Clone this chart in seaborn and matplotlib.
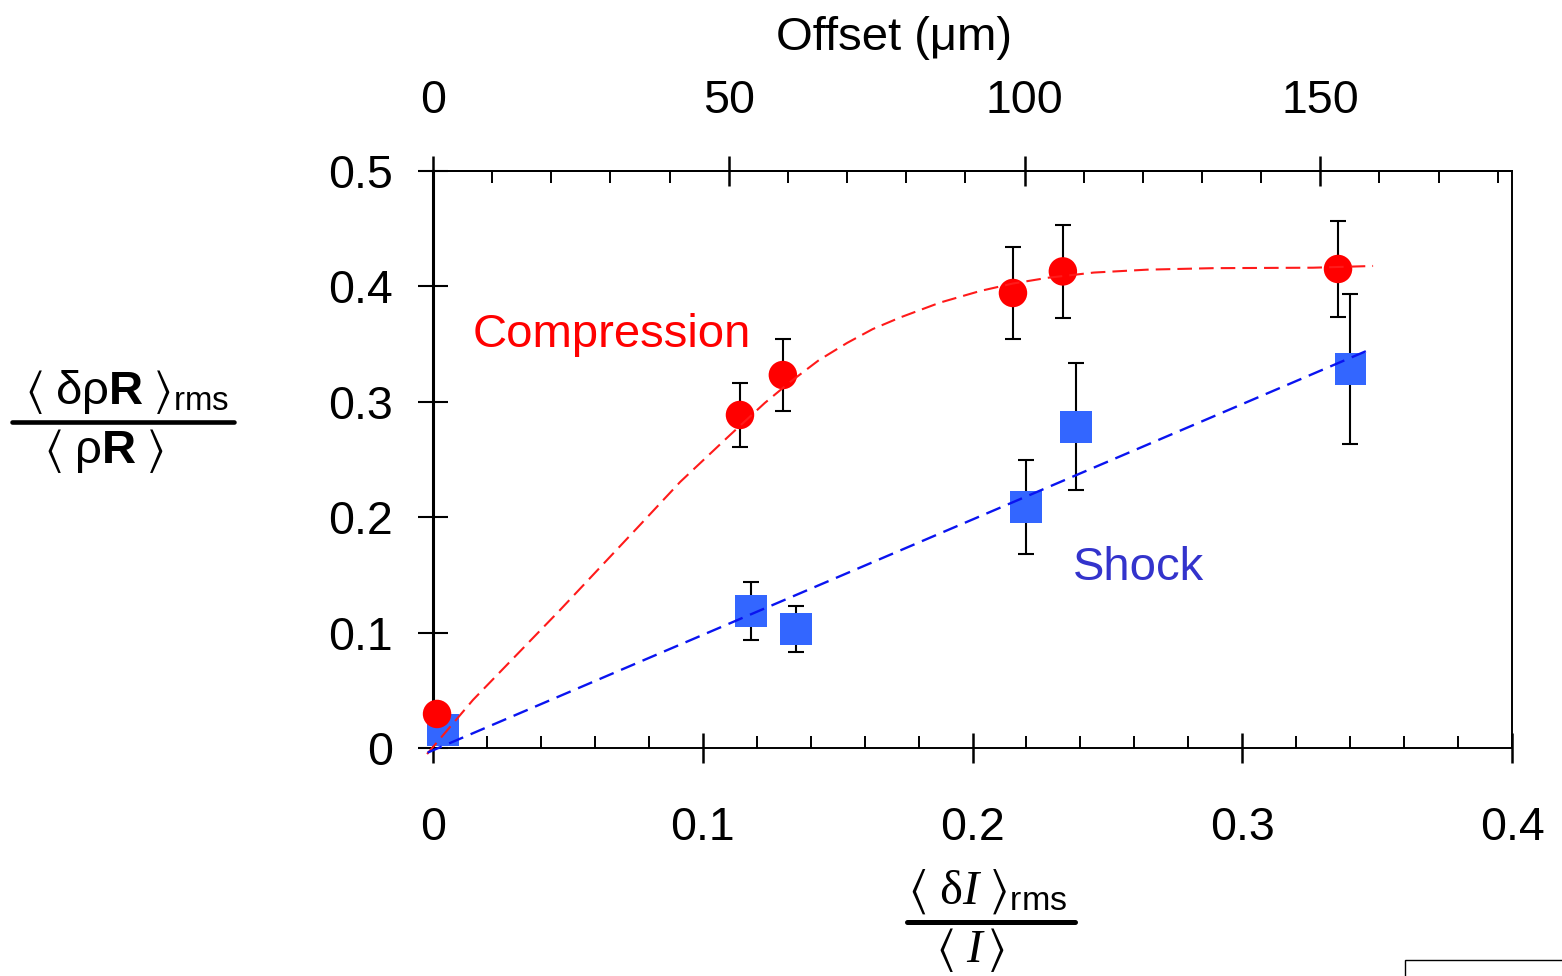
import matplotlib
matplotlib.use("Agg")
import numpy as np
import pandas as pd
import matplotlib.pyplot as plt
import seaborn as sns
from matplotlib.ticker import FixedLocator, FixedFormatter, MultipleLocator
from matplotlib.lines import Line2D
from matplotlib.patches import Rectangle

# ---------------- data ----------------
comp_x = [0.0015, 0.1138, 0.1297, 0.2150, 0.2335, 0.3355]
comp_y = [0.0295, 0.2886, 0.3232, 0.3943, 0.4130, 0.4151]
comp_err = [0.0, 0.028, 0.031, 0.040, 0.040, 0.042]

shock_x = [0.0037, 0.1179, 0.1346, 0.2198, 0.2384, 0.3400]
shock_y = [0.0156, 0.1187, 0.1031, 0.2088, 0.2782, 0.3285]
shock_err = [0.0, 0.025, 0.020, 0.041, 0.055, 0.065]

comp_fit_x = [-0.0022, 0.0148, 0.0471, 0.0767, 0.0916, 0.1101, 0.1230,
              0.1323, 0.1430, 0.1535, 0.1630, 0.1731, 0.1880, 0.2028,
              0.2150, 0.2280, 0.2450, 0.2647, 0.2892, 0.3262, 0.3485]
comp_fit_y = [-0.0052, 0.0416, 0.1196, 0.1932, 0.2305, 0.2712, 0.2990,
              0.3170, 0.3360, 0.3510, 0.3630, 0.3730, 0.3860, 0.3960,
              0.4025, 0.4075, 0.4120, 0.4145, 0.4158, 0.4162, 0.4177]

shock_fit_x = [-0.002, 0.348]
shock_fit_y = [-0.004, 0.346]

x_ticks = [0.0, 0.1, 0.2, 0.3, 0.4]
x_tick_labels = ["0", "0.1", "0.2", "0.3", "0.4"]
y_ticks = [0.0, 0.1, 0.2, 0.3, 0.4, 0.5]
y_tick_labels = ["0", "0.1", "0.2", "0.3", "0.4", "0.5"]
offset_ticks = [0, 50, 100, 150]
offset_tick_labels = ["0", "50", "100", "150"]
um_to_x = 0.002193  # 1 micron offset in units of the bottom axis

# ---------------- style ----------------
sns.set_theme(style="white")
plt.rcParams["font.family"] = ["Liberation Sans", "DejaVu Sans"]
plt.rcParams.update({
    "mathtext.fontset": "custom",
    "mathtext.rm": "Liberation Sans",
    "mathtext.sf": "Liberation Sans",
    "mathtext.bf": "Liberation Sans:bold",
    "mathtext.it": "Liberation Serif:italic",
    "mathtext.cal": "Liberation Serif",
    "mathtext.fallback": "stixsans",
})

W, H = 1562, 976
fig = plt.figure(figsize=(W / 100, H / 100), dpi=100)
fig.patch.set_facecolor("white")
ax = fig.add_axes([433 / W, 1 - 748 / H, (1512 - 433) / W, (748 - 171) / H])
ax.set_facecolor("white")

PT = 100 / 72.0  # px per point

# fit lines
sns.lineplot(x=comp_fit_x, y=comp_fit_y, ax=ax, sort=False, estimator=None,
             color="#ff1a1a", linewidth=1.5, linestyle=(0, (7.0, 3.4)),
             zorder=5, clip_on=False)
sns.lineplot(x=shock_fit_x, y=shock_fit_y, ax=ax, sort=False, estimator=None,
             color="#0a14f0", linewidth=1.7, linestyle=(0, (6.5, 3.4)),
             zorder=5, clip_on=False)

# error bars
ax.errorbar(comp_x, comp_y, yerr=comp_err, fmt="none", ecolor="black",
            elinewidth=1.5, capsize=6, capthick=1.5, zorder=2, clip_on=False)
ax.errorbar(shock_x, shock_y, yerr=shock_err, fmt="none", ecolor="black",
            elinewidth=1.5, capsize=6, capthick=1.5, zorder=2, clip_on=False)

# markers
sns.scatterplot(x=shock_x, y=shock_y, ax=ax, marker="s", s=22.5 ** 2,
                color="#3366ff", edgecolor="none", linewidth=0, zorder=3,
                clip_on=False)
sns.scatterplot(x=comp_x, y=comp_y, ax=ax, marker="o", s=20.5 ** 2,
                color="#ff0000", edgecolor="none", linewidth=0, zorder=4,
                clip_on=False)

ax.set_xlim(0, 0.4)
ax.set_ylim(0, 0.5)

# spines
for side in ["top", "right", "bottom"]:
    ax.spines[side].set_visible(True)
    ax.spines[side].set_color("black")
    ax.spines[side].set_linewidth(1.4)
ax.spines["left"].set_color("black")
ax.spines["left"].set_linewidth(2.2)

# bottom axis ticks
ax.xaxis.set_major_locator(FixedLocator(x_ticks))
ax.xaxis.set_major_formatter(FixedFormatter(x_tick_labels))
ax.xaxis.set_minor_locator(MultipleLocator(0.02))
ax.tick_params(axis="x", which="major", direction="inout", length=30 / PT,
               width=1.8, pad=31, labelsize=33.5, colors="black",
               bottom=True, top=False)
ax.tick_params(axis="x", which="minor", direction="in", length=12 / PT,
               width=1.4, bottom=True, top=False, colors="black")

# left axis ticks
ax.yaxis.set_major_locator(FixedLocator(y_ticks))
ax.yaxis.set_major_formatter(FixedFormatter(y_tick_labels))
ax.tick_params(axis="y", which="major", direction="inout", length=30 / PT,
               width=1.5, pad=18, labelsize=33.5, colors="black",
               left=True, right=False)

# top axis (offset in microns)
sec = ax.secondary_xaxis("top", functions=(lambda x: x / um_to_x,
                                           lambda u: u * um_to_x))
sec.xaxis.set_major_locator(FixedLocator(offset_ticks))
sec.xaxis.set_major_formatter(FixedFormatter(offset_tick_labels))
sec.xaxis.set_minor_locator(MultipleLocator(10))
sec.tick_params(axis="x", which="major", direction="inout", length=30 / PT,
                width=1.8, pad=24, labelsize=33.5, colors="black")
sec.tick_params(axis="x", which="minor", direction="in", length=12 / PT,
                width=1.4, colors="black")
sec.spines["top"].set_linewidth(1.4)
sec.spines["top"].set_color("black")

# in-plot labels
ax.text(0.0148, 0.3475, "Compression", color="#ff0000", fontsize=34,
        ha="left", va="baseline")
ax.text(0.2373, 0.1456, "Shock", color="#3333cc", fontsize=34,
        ha="left", va="baseline")

# top label
fig.text(894 / W, 1 - 50 / H, "Offset (\u03bcm)", fontsize=34,
         ha="center", va="baseline", color="black")

# y label as fraction
fig.text(127 / W, 1 - 404 / H,
         r"$\langle\ \mathrm{\delta\rho}\mathbf{R}\ \rangle_{\mathrm{rms}}$",
         fontsize=34, ha="center", va="baseline", color="black")
fig.add_artist(Line2D([12 / W, 234 / W], [1 - 422 / H, 1 - 422 / H],
                      color="black", linewidth=3.3,
                      transform=fig.transFigure))
fig.text(104 / W, 1 - 463 / H,
         r"$\langle\ \mathrm{\rho}\mathbf{R}\ \rangle$",
         fontsize=34, ha="center", va="baseline", color="black")

# x label as fraction
fig.text(988 / W, 1 - 904 / H,
         r"$\langle\ \mathcal{\delta}\mathit{I}\ \rangle_{\mathrm{rms}}$",
         fontsize=35, ha="center", va="baseline", color="black")
fig.add_artist(Line2D([907 / W, 1075 / W], [1 - 922 / H, 1 - 922 / H],
                      color="black", linewidth=3.6,
                      transform=fig.transFigure))
fig.text(970 / W, 1 - 962 / H,
         r"$\langle\ \mathit{I}\,\rangle$",
         fontsize=34, ha="center", va="baseline", color="black")

# partial box at bottom-right edge of the picture
fig.add_artist(Rectangle((1405 / W, -0.05), 0.2, 0.05 + (976 - 960) / H,
                         transform=fig.transFigure, fill=False,
                         edgecolor="black", linewidth=1.0))

fig.savefig("out.png", dpi=100, facecolor="white")
